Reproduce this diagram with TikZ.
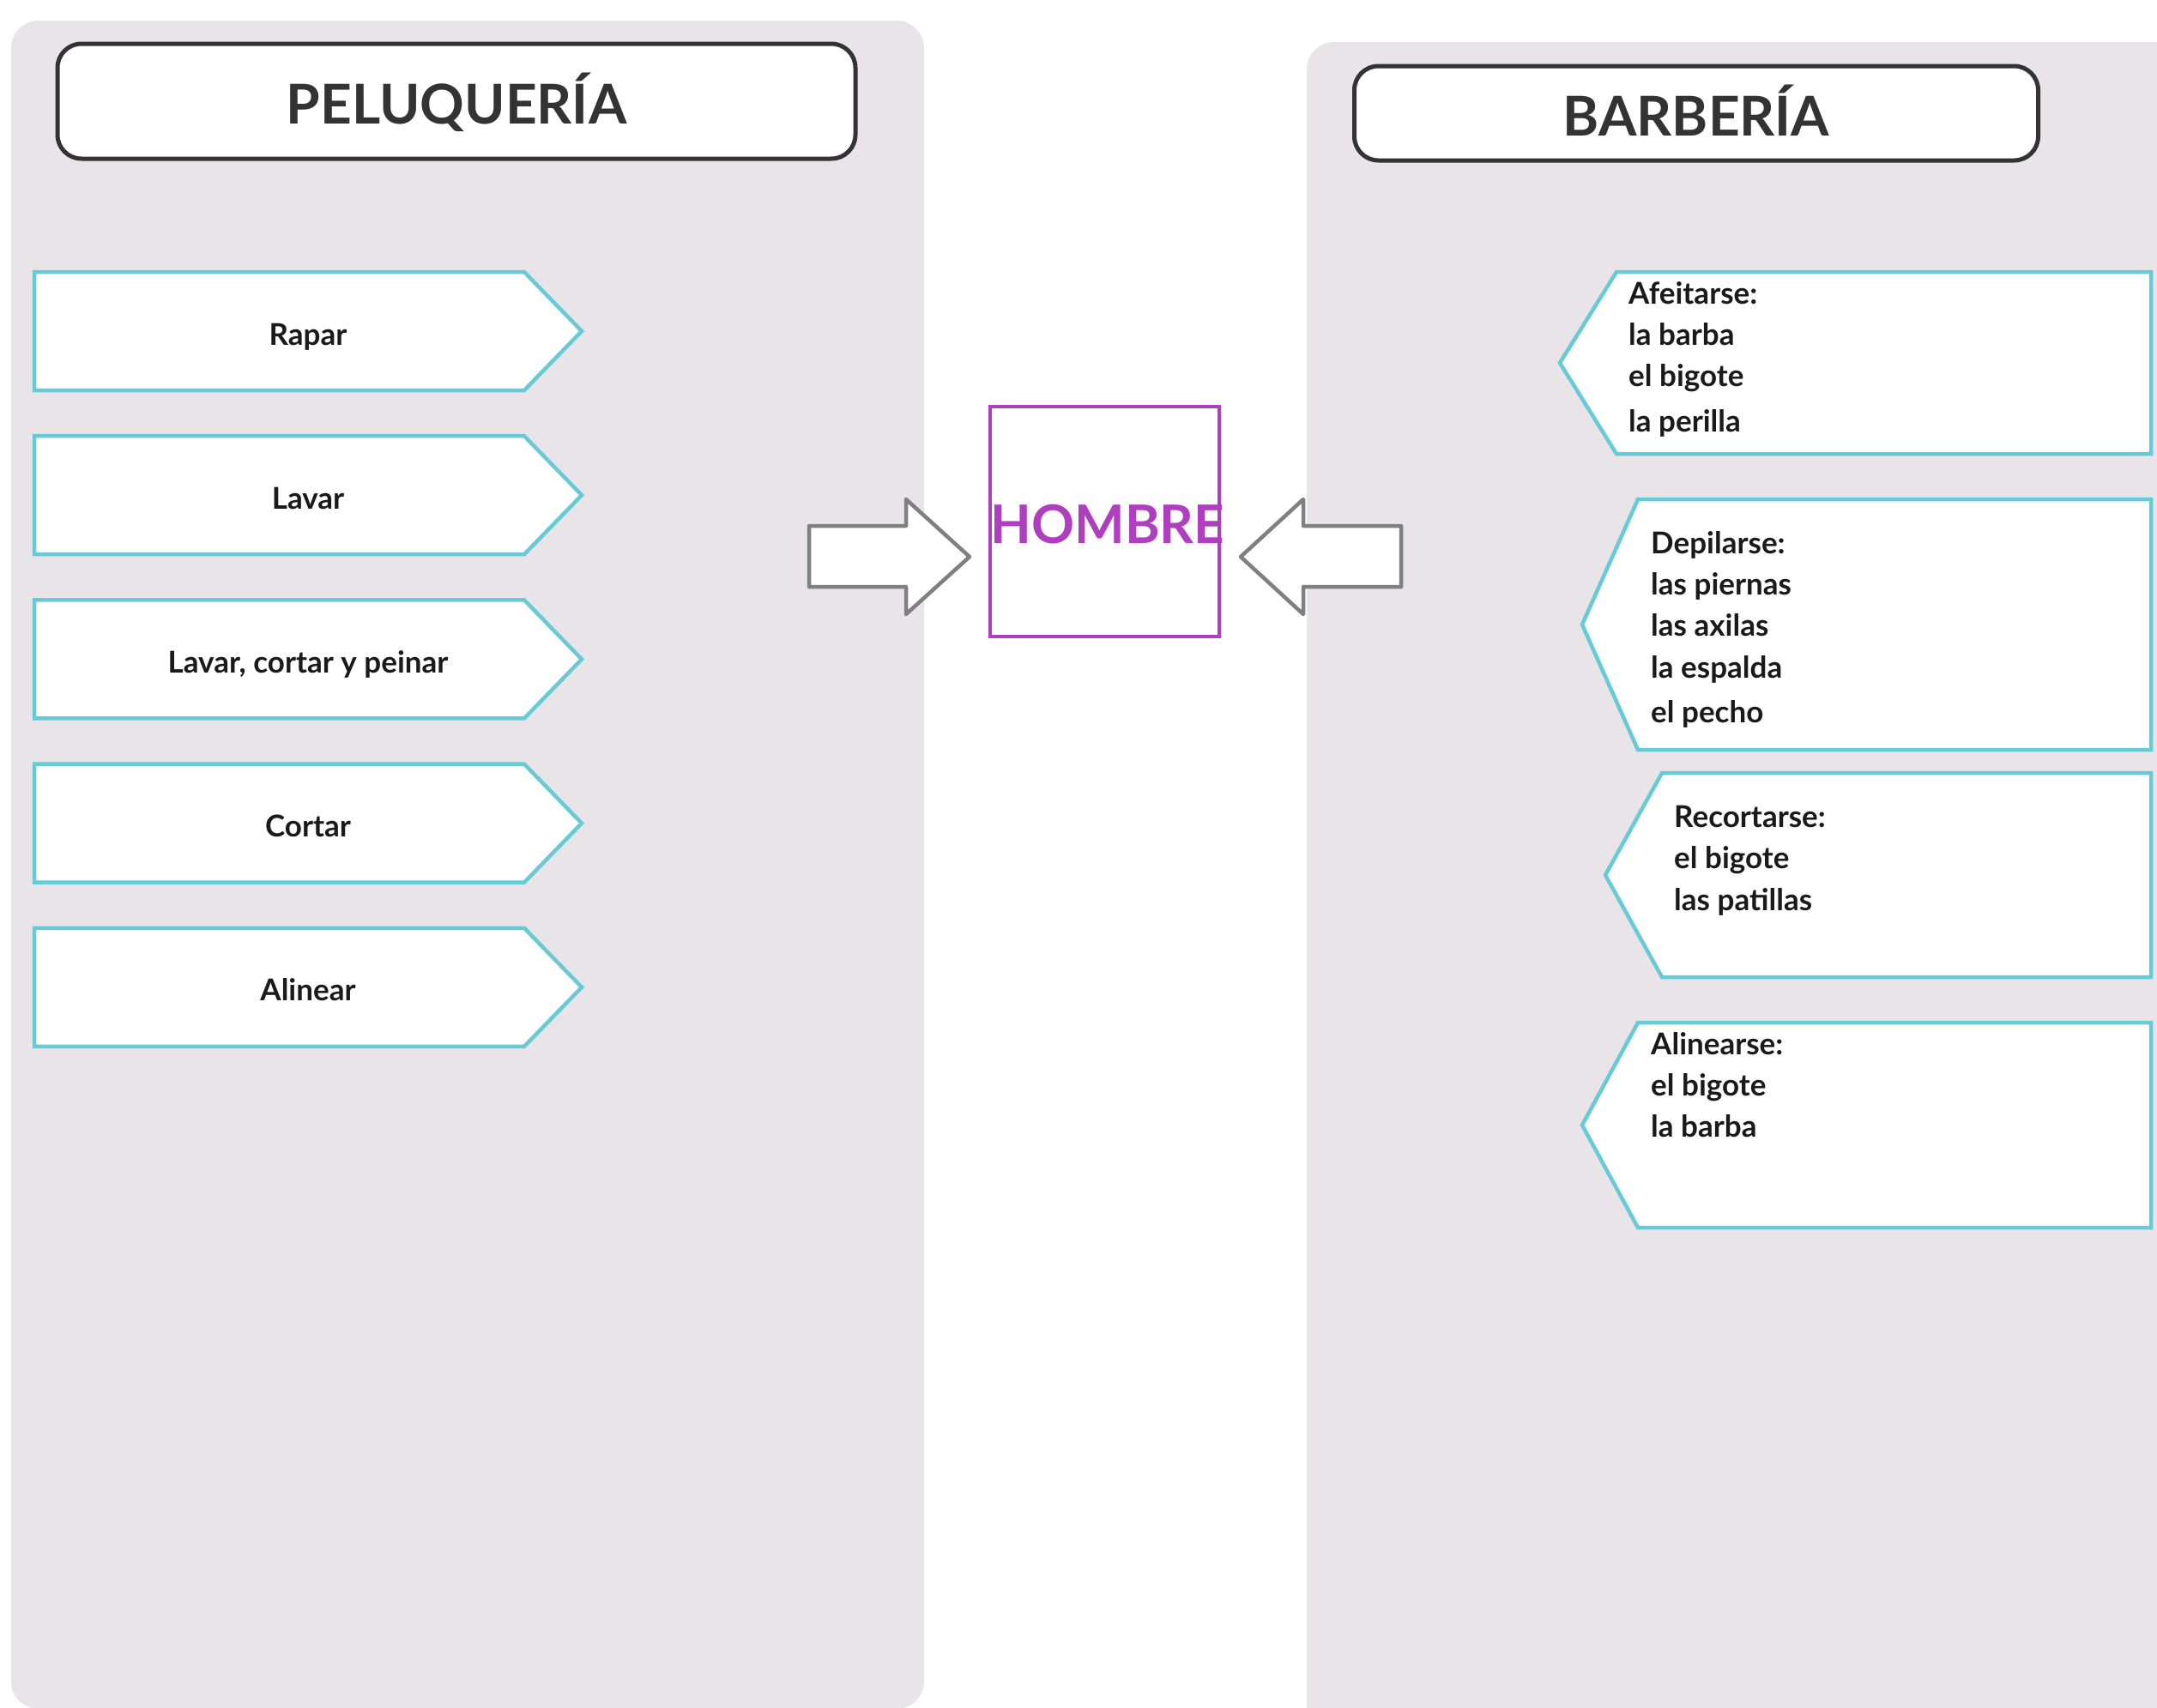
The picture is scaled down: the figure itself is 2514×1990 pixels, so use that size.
\documentclass[tikz,border=0pt]{standalone}
\usepackage{fontspec}
\setmainfont{Lato}
\definecolor{panel}{HTML}{E8E4E8}
\definecolor{cyanline}{HTML}{66CBD6}
\definecolor{purp}{HTML}{AE3FBF}
\definecolor{arrowgray}{HTML}{808080}
\definecolor{titlegray}{HTML}{333333}
\definecolor{txt}{HTML}{1A1A1A}
\begin{document}
\begin{tikzpicture}[x=1pt,y=-1pt,
  panelbg/.style={fill=panel, rounded corners=32pt},
  titlebox/.style={draw=titlegray, line width=5pt, fill=white, rounded corners=28pt,
    minimum width=930pt, minimum height=134pt, inner sep=0pt,
    font=\fontsize{64}{70}\selectfont\bfseries, text=titlegray,
    text height=52pt, text depth=0pt},
  tagbox/.style={draw=cyanline, line width=4.5pt, fill=white},
  taglabel/.style={font=\fontsize{35}{48}\selectfont\bfseries, text=txt,
    text height=25pt, text depth=0pt, inner sep=0pt},
  taglist/.style={font=\fontsize{35}{48}\selectfont\bfseries, text=txt,
    align=left, anchor=north west, inner sep=0pt},
  blockarrow/.style={draw=arrowgray, line width=4.5pt, fill=white, line join=round},
  centerbox/.style={draw=purp, line width=4pt, minimum width=267pt, minimum height=268pt,
    inner sep=0pt, text=purp, font=\fontsize{62}{70}\selectfont\bfseries,
    text height=51pt, text depth=0pt}
]
\clip (0,0) rectangle (2514,1990);
\fill[white] (0,0) rectangle (2514,1990);
% panels
\fill[panelbg] (13,24) rectangle (1077,1992);
\fill[panelbg] (1523,49) rectangle (2600,2100);
% titles
\node[titlebox] (peluqueria) at (532,118) {PELUQUERÍA};
\node[titlebox, minimum width=797pt, minimum height=110pt] (barberia) at (1977,132) {BARBERÍA};
% left tags
\foreach \i/\t in {0/Rapar, 1/Lavar, 2/{Lavar, cortar y peinar}, 3/Cortar, 4/Alinear}{
  \pgfmathsetmacro{\cy}{386+191.2*\i}
  \draw[tagbox] (40,\cy-69) -- (611,\cy-69) -- (678,\cy) -- (611,\cy+69) -- (40,\cy+69) -- cycle;
  \node[taglabel] (left\i) at (359,\cy+3.5) {\t};
}
% center
\node[centerbox] (hombre) at (1287,608) {\makebox[0pt]{\hspace*{8pt}HOMBRE}};
% block arrows
\draw[blockarrow] (943,613) -- (1056,613) -- (1056,582) -- (1130,649) -- (1056,716) -- (1056,684) -- (943,684) -- cycle;
\draw[blockarrow] (1633,613) -- (1519,613) -- (1519,582) -- (1446,649) -- (1519,716) -- (1519,684) -- (1633,684) -- cycle;
% right tags
\draw[tagbox] (2507,317) -- (1884,317) -- (1818,423) -- (1884,529) -- (2507,529) -- cycle;
\node[taglist] (afeitarse) at (1898,328.5) {Afeitarse:\\la barba\\el bigote\\[5pt]la perilla};
\draw[tagbox] (2507,582) -- (1909,582) -- (1844,728) -- (1909,874) -- (2507,874) -- cycle;
\node[taglist] (depilarse) at (1924,619.5) {Depilarse:\\las piernas\\las axilas\\[1pt]la espalda\\[4pt]el pecho};
\draw[tagbox] (2507,901) -- (1937,901) -- (1871,1020) -- (1937,1139) -- (2507,1139) -- cycle;
\node[taglist] (recortarse) at (1951,938.5) {Recortarse:\\el bigote\\[1pt]las patillas};
\draw[tagbox] (2507,1192) -- (1909,1192) -- (1844,1311.5) -- (1909,1431) -- (2507,1431) -- cycle;
\node[taglist] (alinearse) at (1924,1203.5) {Alinearse:\\el bigote\\la barba};
\end{tikzpicture}
\end{document}
